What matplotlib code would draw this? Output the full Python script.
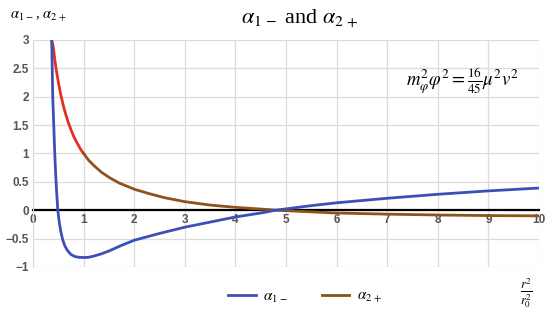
import numpy as np
import matplotlib
matplotlib.use('Agg')
import matplotlib.pyplot as plt

plt.rcParams['mathtext.fontset'] = 'stix'
plt.rcParams['font.family'] = ['Liberation Serif', 'DejaVu Serif']

# alpha_1-
x1 = [0.37, 0.38, 0.39, 0.41, 0.43, 0.45, 0.47, 0.49, 0.52, 0.55, 0.59, 0.63, 0.68, 0.75,
      0.82, 0.9, 1.0, 1.1, 1.2, 1.35, 1.5, 1.75, 2.0, 2.5, 3.0, 3.5, 4.0, 4.5, 4.8,
      5.5, 6.0, 7.0, 8.0, 9.0, 10.0]
a1 = [3.0, 2.5, 2.0, 1.5, 1.0, 0.6, 0.28, 0.0, -0.22, -0.38, -0.53, -0.63, -0.71, -0.78,
      -0.815, -0.83, -0.835, -0.83, -0.81, -0.77, -0.72, -0.62, -0.53, -0.41, -0.30, -0.21,
      -0.12, -0.05, 0.0, 0.08, 0.13, 0.21, 0.28, 0.34, 0.39]

# alpha_2+
x2 = [0.37, 0.4, 0.43, 0.46, 0.5, 0.55, 0.6, 0.65, 0.7, 0.75, 0.8, 0.85, 0.9, 0.95, 1.0,
      1.1, 1.2, 1.35, 1.5, 1.7, 2.0, 2.3, 2.6, 3.0, 3.5, 4.0, 4.5, 4.8, 5.5, 6.0, 7.0, 8.0,
      9.0, 10.0]
a2 = [3.0, 2.88, 2.66, 2.47, 2.26, 2.03, 1.84, 1.68, 1.54, 1.42, 1.31, 1.22, 1.14, 1.06,
      1.0, 0.88, 0.79, 0.67, 0.58, 0.48, 0.37, 0.29, 0.22, 0.15, 0.09, 0.05, 0.02, 0.0,
      -0.03, -0.05, -0.07, -0.085, -0.095, -0.10]

xticks = list(range(0, 11))
yticks = [-1, -0.5, 0, 0.5, 1, 1.5, 2, 2.5, 3]
ylabels = ['\u22121', '\u22120.5', '0', '0.5', '1', '1.5', '2', '2.5', '3']

fig = plt.figure(figsize=(5.5, 3.1), dpi=100)
ax = fig.add_axes([0.06, 0.139, 0.92, 0.732])

# red head of alpha_2+ (x < 1), brown for the rest
n_red = 15
ax.plot(x2[:n_red], a2[:n_red], color='#e0321e', lw=2, zorder=3)
ax.plot(x2[n_red - 1:], a2[n_red - 1:], color='#8e521c', lw=2, zorder=3, label=r'$\alpha_{2\,+}$')
ax.plot(x1, a1, color='#3c4fb8', lw=2, zorder=4, label=r'$\alpha_{1\,-}$')

ax.set_xlim(0, 10)
ax.set_ylim(-1, 3)
ax.set_xticks(xticks)
ax.set_yticks(yticks)
ax.set_yticklabels(ylabels)
ax.grid(True, color='#dcdcdc', lw=0.9)
ax.set_axisbelow(True)
for s in ['top', 'right']:
    ax.spines[s].set_visible(False)
ax.spines['left'].set_color('#dcdcdc')
ax.spines['bottom'].set_position(('data', 0))
ax.spines['bottom'].set_color('black')
ax.spines['bottom'].set_linewidth(1.6)
ax.spines['bottom'].set_zorder(2)
ax.tick_params(length=0, labelsize=8.5, labelcolor='#555555', pad=3)
for lab in ax.get_xticklabels() + ax.get_yticklabels():
    lab.set_family('Liberation Sans')
    lab.set_fontweight('bold')

fig.text(0.545, 0.94, r'$\alpha_{1\,-}$ and $\alpha_{2\,+}$', ha='center', va='center', fontsize=16)
fig.text(0.018, 0.945, r'$\alpha_{1\,-}$, $\alpha_{2\,+}$', ha='left', va='center', fontsize=10.5)
ax.text(0.96, 0.82, r'$m_\varphi^2\varphi^2 = \frac{16}{45}\mu^2 v^2$', transform=ax.transAxes,
        ha='right', va='center', fontsize=13.5)
fig.text(0.957, 0.055, r'$\frac{r^2}{r_0^2}$', ha='center', va='center', fontsize=13)

h, l = ax.get_legend_handles_labels()
fig.legend(h[::-1], l[::-1], loc='center', bbox_to_anchor=(0.555, 0.04), ncol=2, frameon=False,
           fontsize=11, handlelength=1.8, columnspacing=2.2, handletextpad=0.5)

fig.savefig('out.png', dpi=100)
